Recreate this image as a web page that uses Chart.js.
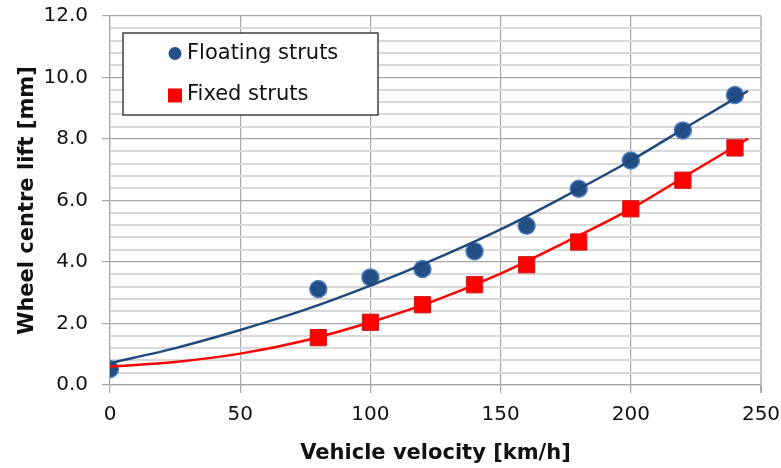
<!DOCTYPE html>
<html>
<head>
<meta charset="utf-8">
<script src="https://cdn.jsdelivr.net/npm/chart.js@4"></script>
<style>
  html, body { margin: 0; padding: 0; background: #fff; }
  #wrap { width: 781px; height: 468px; position: relative; }
</style>
</head>
<body>
<div id="wrap"><canvas id="lift-chart"></canvas></div>
<script>
// measured points
const floatingVelocity = [0, 80, 100, 120, 140, 160, 180, 200, 220, 240];
const floatingLift = [0.52, 3.12, 3.50, 3.77, 4.35, 5.18, 6.38, 7.30, 8.28, 9.43];
const fixedVelocity = [80, 100, 120, 140, 160, 180, 200, 220, 240];
const fixedLift = [1.54, 2.04, 2.61, 3.26, 3.91, 4.65, 5.73, 6.66, 7.71];

// trend lines
const trendVelocity = [0, 25, 50, 75, 100, 125, 150, 175, 200, 225, 245];
const floatingTrend = [0.71, 1.2, 1.79, 2.45, 3.23, 4.1, 5.06, 6.15, 7.3, 8.57, 9.56];
const fixedTrend = [0.6, 0.75, 1.02, 1.45, 2.04, 2.75, 3.62, 4.65, 5.73, 7.0, 8.01];

const legendLabels = ["Floating struts", "Fixed struts"];

const toXY = (xs, ys) => xs.map((x, i) => ({ x: x, y: ys[i] }));
const isMajor = (v) => Math.abs(v / 2 - Math.round(v / 2)) < 1e-6;

const FONT = "'DejaVu Sans', Verdana, sans-serif";

// legend box drawn inside the plot, like the original
const boxLegend = {
  id: "boxLegend",
  afterDraw(chart) {
    const ctx = chart.ctx;
    const a = chart.chartArea;
    const x0 = a.left + 13, y0 = a.top + 17, w = 255, h = 82;
    ctx.save();
    ctx.fillStyle = "#fff";
    ctx.fillRect(x0, y0, w, h);
    ctx.strokeStyle = "#404040";
    ctx.lineWidth = 1.5;
    ctx.strokeRect(x0, y0, w, h);

    ctx.fillStyle = "#244f85";
    ctx.beginPath();
    ctx.arc(x0 + 52, y0 + 20.5, 6.5, 0, Math.PI * 2);
    ctx.fill();
    ctx.fillStyle = "#ff0000";
    ctx.fillRect(x0 + 45, y0 + 55.5, 14, 14);

    ctx.fillStyle = "#111";
    ctx.font = "21px " + FONT;
    ctx.textBaseline = "middle";
    ctx.textAlign = "left";
    ctx.fillText(legendLabels[0], x0 + 64, y0 + 20.5);
    ctx.fillText(legendLabels[1], x0 + 64, y0 + 62);
    ctx.restore();
  },
};

const liftChart = new Chart(document.getElementById("lift-chart"), {
  type: "scatter",
  data: {
    datasets: [
      {
        type: "line",
        data: toXY(trendVelocity, floatingTrend),
        borderColor: "#1f497d",
        borderWidth: 2.5,
        pointRadius: 0,
        cubicInterpolationMode: "monotone",
        order: 0,
      },
      {
        type: "line",
        data: toXY(trendVelocity, fixedTrend),
        borderColor: "#ff0000",
        borderWidth: 2.5,
        pointRadius: 0,
        cubicInterpolationMode: "monotone",
        order: 0,
      },
      {
        label: legendLabels[0],
        data: toXY(floatingVelocity, floatingLift),
        pointStyle: "circle",
        pointRadius: 8.5,
        backgroundColor: "#244f85",
        borderColor: "#4f7fbf",
        borderWidth: 1.5,
        order: 1,
      },
      {
        label: legendLabels[1],
        data: toXY(fixedVelocity, fixedLift),
        pointStyle: "rect",
        pointRadius: 11.5,
        backgroundColor: "#ff0000",
        borderColor: "#d01818",
        borderWidth: 1,
        order: 2,
      },
    ],
  },
  options: {
    responsive: true,
    maintainAspectRatio: false,
    animation: false,
    layout: { padding: { top: 16, right: 20, left: 0, bottom: 0 } },
    plugins: {
      legend: { display: false },
      tooltip: { enabled: false },
    },
    scales: {
      x: {
        type: "linear",
        min: 0,
        max: 250,
        afterFit: (scale) => {
          scale.height = 83;
          scale.paddingLeft = 0;
          scale.paddingRight = 0;
        },
        ticks: {
          stepSize: 50,
          padding: 10,
          color: "#111",
          font: { family: FONT, size: 20 },
        },
        grid: {
          color: (c) => (c.tick && c.tick.value === 250 ? "#c4c4c4" : "#a6a6a6"),
          lineWidth: (c) => (c.tick && c.tick.value === 250 ? 2 : 1.2),
          tickLength: 8,
          tickColor: "#a6a6a6",
        },
        border: { color: "#a6a6a6", width: 1.2 },
        title: {
          display: true,
          text: "Vehicle velocity [km/h]",
          color: "#111",
          font: { family: FONT, size: 21, weight: "bold" },
          padding: { top: 0, bottom: 2 },
        },
      },
      y: {
        min: 0,
        max: 12,
        afterFit: (scale) => {
          scale.width = 110;
          scale.paddingTop = 0;
          scale.paddingBottom = 0;
        },
        ticks: {
          stepSize: 0.4,
          autoSkip: false,
          padding: 14,
          color: "#111",
          font: { family: FONT, size: 20 },
          callback: (v) => (isMajor(v) ? Number(v).toFixed(1) : ""),
        },
        grid: {
          color: (c) => (c.tick && isMajor(c.tick.value) ? "#a6a6a6" : "#d9d9d9"),
          lineWidth: (c) => (c.tick && isMajor(c.tick.value) ? 1.2 : 2),
          tickLength: 8,
          tickColor: (c) => (c.tick && isMajor(c.tick.value) ? "#a6a6a6" : "rgba(0,0,0,0)"),
        },
        border: { color: "#a6a6a6", width: 1.2 },
        title: {
          display: true,
          text: "Wheel centre lift [mm]",
          color: "#111",
          font: { family: FONT, size: 21, weight: "bold" },
          padding: { top: 15, bottom: 0 },
        },
      },
    },
  },
  plugins: [boxLegend],
});
</script>
</body>
</html>
